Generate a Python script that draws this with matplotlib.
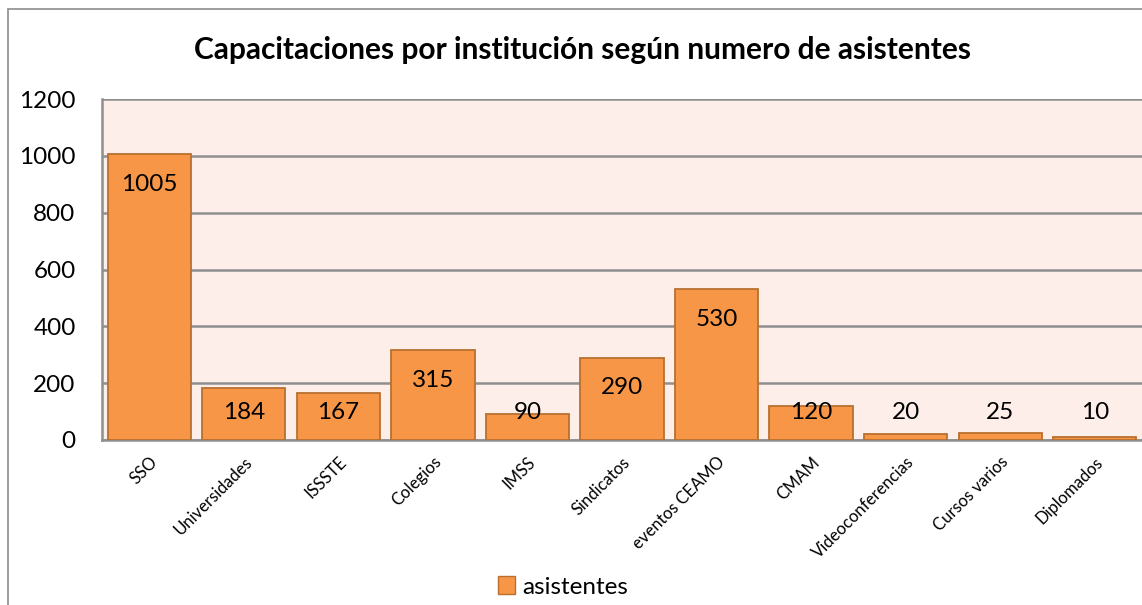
import matplotlib
matplotlib.use("Agg")
import matplotlib.pyplot as plt
from matplotlib.patches import Rectangle, Patch

# data
categorias = ["SSO", "Universidades", "ISSSTE", "Colegios", "IMSS", "Sindicatos",
              "eventos CEAMO", "CMAM", "Videoconferencias", "Cursos varios", "Diplomados"]
asistentes = [1005, 184, 167, 315, 90, 290, 530, 120, 20, 25, 10]

plt.rcParams['font.family'] = ['Lato', 'DejaVu Sans']

fig = plt.figure(figsize=(11.42, 6.05), dpi=100)
fig.patches.append(Rectangle((8/1142, -0.01), 1.2, 1 - 9/605 + 0.01, transform=fig.transFigure,
                             fill=False, edgecolor='#8c8c8c', linewidth=1.2))

ax = fig.add_axes([102/1142, 1 - 440/605, 1 - 102/1142, (440 - 99)/605])
ax.set_facecolor('#fdeee9')

x = range(len(categorias))
ax.bar(x, asistentes, width=0.88, color='#f79646', edgecolor='#b9702f', linewidth=1.3,
       zorder=3, label='asistentes')

# labels like Excel "inside end"
for i, v in enumerate(asistentes):
    ax.text(i, max(v - 105, 98), str(v), ha='center', va='center', fontsize=17.5,
            color='black', zorder=4)

ax.set_xlim(-0.5, len(categorias) - 0.5)
ax.set_ylim(0, 1200)
ax.set_yticks(range(0, 1201, 200))
ax.yaxis.grid(True, color='#8f8f8f', linewidth=1.8, zorder=1)
ax.set_axisbelow(True)
ax.tick_params(axis='y', length=0, labelsize=17.5, pad=19)
ax.tick_params(axis='x', length=0, labelsize=12, pad=10)
ax.set_xticks(list(x))
ax.set_xticklabels(categorias, rotation=45, ha='right', rotation_mode='anchor')

for s in ['top', 'right']:
    ax.spines[s].set_visible(False)
ax.spines['left'].set_color('#8f8f8f')
ax.spines['left'].set_linewidth(1.8)
ax.spines['bottom'].set_color('#8f8f8f')
ax.spines['bottom'].set_linewidth(1.8)

fig.text(582/1142, 1 - 50/605, "Capacitaciones por institución según numero de asistentes",
         ha='center', va='center', fontsize=21.5, fontweight='bold')

leg = fig.legend(handles=[Patch(facecolor='#f79646', edgecolor='#b9702f', label='asistentes')],
                 loc='center', bbox_to_anchor=(563/1142, 1 - 587/605), frameon=False,
                 fontsize=17.5, handlelength=0.7, handleheight=0.7, handletextpad=0.3)

fig.savefig("out.png", dpi=100)
